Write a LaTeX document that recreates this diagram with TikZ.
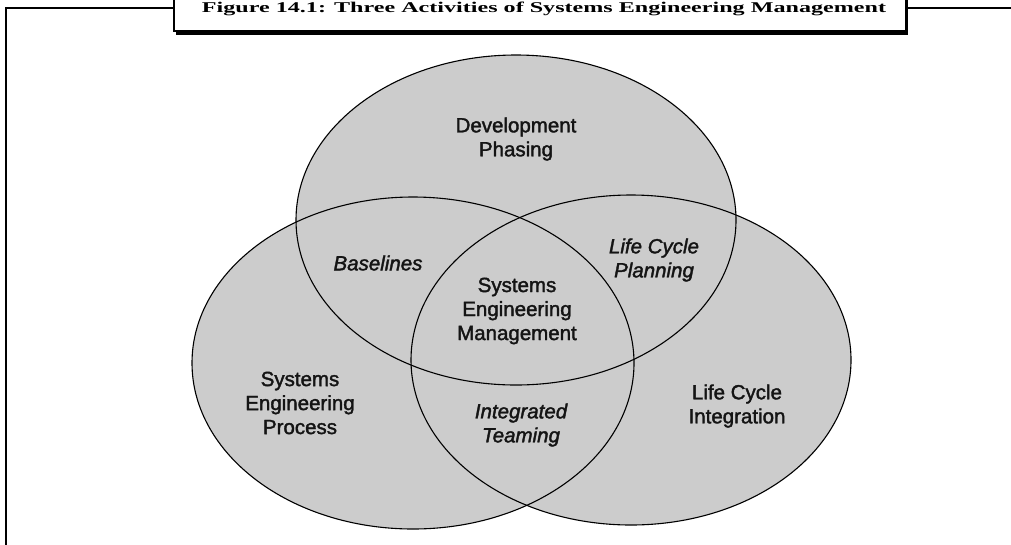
\documentclass[tikz,border=0pt]{standalone}
\usepackage{fontspec}
\setmainfont{Liberation Serif}
\newfontfamily\arialf[FakeBold=1.8]{Liberation Sans}
\definecolor{vgray}{RGB}{204,204,204}
\definecolor{ink}{RGB}{20,20,20}
\begin{document}
\begin{tikzpicture}[x=1pt,y=-1pt,
  vline/.style={draw=black, line width=1.1pt},
  lab/.style={font=\arialf\fontsize{20.5}{24}\selectfont, align=center, text=ink, inner sep=0pt},
  ilab/.style={font=\arialf\itshape\fontsize{20.5}{24}\selectfont, align=center, text=ink, inner sep=0pt},
  frameline/.style={draw=black, line width=2.2pt}]
\useasboundingbox (0,0) rectangle (1011,544);
\fill[white] (0,0) rectangle (1011,544);
% frame
\coordinate (fbl) at (6,546);
\coordinate (ftl) at (6,8);
\coordinate (fl) at (173,8);
\coordinate (fr) at (905,8);
\coordinate (ftr) at (1013,8);
\draw[frameline] (fbl) -- (ftl) -- (fl);
\draw[frameline] (fr) -- (ftr);
% title box with shadow
\fill[black] (175.5,-5) rectangle (907.5,34.5);
\node (titlebox) [draw=black, fill=white, line width=1.6pt, inner sep=0pt,
  minimum width=732pt, minimum height=38pt, anchor=south west] at (173,32) {};
\node (title) [anchor=base, inner sep=0pt] at (544,12.5)
  {\resizebox{684pt}{10.5pt}{\bfseries Figure 14.1: Three Activities of Systems Engineering Management}};
% ellipses
\coordinate (dev) at (516,220);
\coordinate (sep) at (413,363);
\coordinate (lci) at (631,360);
\fill[vgray] (dev) ellipse [x radius=220pt, y radius=165pt];
\fill[vgray] (sep) ellipse [x radius=221pt, y radius=166pt];
\fill[vgray] (lci) ellipse [x radius=220pt, y radius=165pt];
\draw[vline] (dev) ellipse [x radius=220pt, y radius=165pt];
\draw[vline] (sep) ellipse [x radius=221pt, y radius=166pt];
\draw[vline] (lci) ellipse [x radius=220pt, y radius=165pt];
% labels
\node (ldev) [lab] at (516,139) {Development\\Phasing};
\node (lbase) [ilab] at (378,263) {Baselines};
\node (llcp) [ilab] at (654,260) {Life Cycle\\Planning};
\node (lsem) [lab] at (517,311) {Systems\\Engineering\\Management};
\node (lsep) [lab] at (300,403) {Systems\\Engineering\\Process};
\node (llci) [lab] at (737,406) {Life Cycle\\Integration};
\node (lit) [ilab] at (521,425) {Integrated\\Teaming};
\end{tikzpicture}
\end{document}
